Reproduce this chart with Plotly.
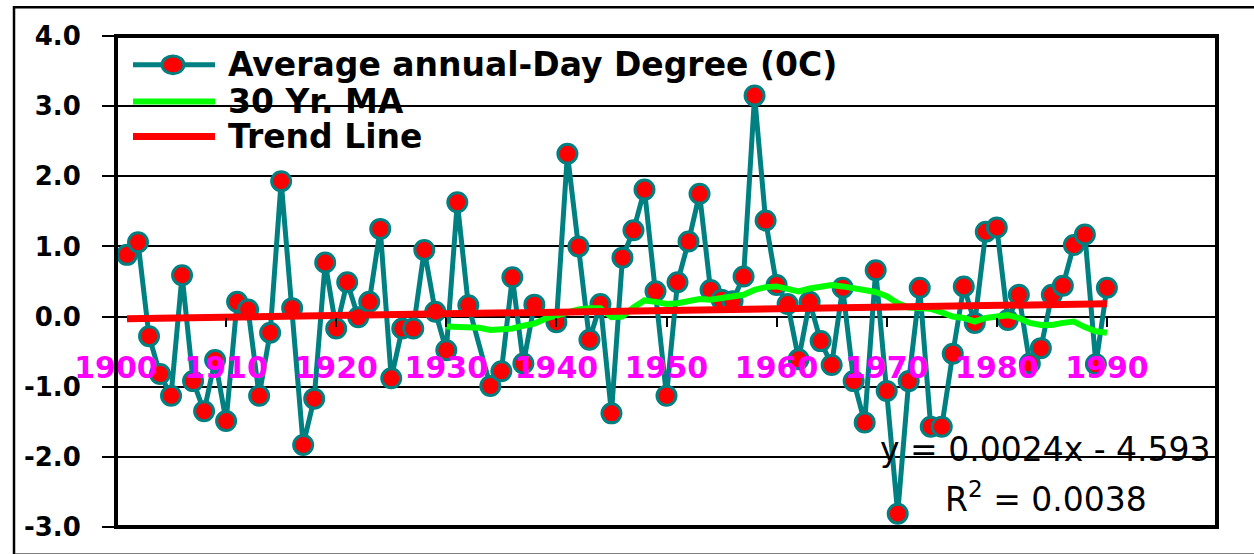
import plotly.graph_objects as go

# ---- data -----------------------------------------------------------------
years = list(range(1901, 1991))
day_degree = [
    0.88, 1.06, -0.28, -0.82, -1.13, 0.59, -0.92, -1.35, -0.62, -1.49,   # 1901-1910
    0.21, 0.10, -1.13, -0.23, 1.93, 0.12, -1.83, -1.17, 0.77, -0.17,     # 1911-1920
    0.49, -0.01, 0.21, 1.25, -0.88, -0.17, -0.17, 0.95, 0.07, -0.48,     # 1921-1930
    1.63, 0.16, None, -0.99, -0.78, 0.56, -0.67, 0.17, None, -0.08,      # 1931-1940
    2.32, 1.00, -0.33, 0.18, -1.38, 0.84, 1.23, 1.81, 0.36, -1.13,       # 1941-1950
    0.49, 1.07, 1.75, 0.38, 0.24, 0.22, 0.57, 3.15, 1.37, 0.45,          # 1951-1960
    0.18, -0.61, 0.21, -0.35, -0.69, 0.41, -0.92, -1.51, 0.66, -1.06,    # 1961-1970
    -2.81, -0.92, 0.41, -1.57, -1.57, -0.53, 0.43, -0.09, 1.21, 1.27,    # 1971-1980
    -0.05, 0.31, -0.67, -0.45, 0.31, 0.44, 1.02, 1.17, -0.68, 0.41,      # 1981-1990
]

ma_years = list(range(1930, 1991))
ma_30 = [
    -0.14, -0.14, -0.15, -0.16, -0.19, -0.19, -0.17, -0.13, -0.10, -0.03,  # 1930-1939
    0.02, 0.06, 0.10, 0.12, 0.12, -0.01, 0.00, 0.13, 0.23, 0.21,           # 1940-1949
    0.18, 0.19, 0.21, 0.25, 0.24, 0.26, 0.28, 0.31, 0.38, 0.42,            # 1950-1959
    0.43, 0.39, 0.36, 0.40, 0.43, 0.45, 0.43, 0.40, 0.37, 0.35,            # 1960-1969
    0.29, 0.19, 0.13, 0.13, 0.11, 0.06, 0.00, -0.02, -0.07, -0.02,         # 1970-1979
    0.01, 0.02, -0.02, -0.09, -0.12, -0.12, -0.09, -0.07, -0.15, -0.21,    # 1980-1989
    -0.23,                                                                 # 1990
]

trend_slope = 0.0024
trend_intercept = -4.593
trend_years = [years[0], years[-1]]
trend_values = [trend_slope * yr + trend_intercept for yr in trend_years]

y_ticks = [-3, -2, -1, 0, 1, 2, 3, 4]
y_tick_text = ["-3.0", "-2.0", "-1.0", "0.0", "1.0", "2.0", "3.0", "4.0"]
x_ticks = list(range(1900, 2001, 10))

legend_labels = ["Average annual-Day Degree (0C)", "30 Yr. MA", "Trend Line"]

# ---- page geometry --------------------------------------------------------
W, H = 1254, 554
ML, MR, MT, MB = 116, 37, 36, 24
PW, PH = W - ML - MR, H - MT - MB


def px(x):
    """horizontal pixel -> paper fraction"""
    return (x - ML) / PW


def py(y):
    """vertical pixel (from top) -> paper fraction"""
    return (H - MB - y) / PH


TEAL = "#008080"
RED = "#FF0000"
GREEN = "#00FF00"
BOLD = "DejaVu Sans"

fig = go.Figure()

fig.add_trace(go.Scatter(
    x=years, y=day_degree, mode="lines+markers", connectgaps=True,
    name=legend_labels[0],
    line=dict(color=TEAL, width=5),
    marker=dict(size=19, color=RED, line=dict(color=TEAL, width=3)),
))
fig.add_trace(go.Scatter(
    x=ma_years, y=ma_30, mode="lines", name=legend_labels[1],
    line=dict(color=GREEN, width=6),
))
fig.add_trace(go.Scatter(
    x=trend_years, y=trend_values, mode="lines", name=legend_labels[2],
    line=dict(color=RED, width=7),
))

shapes = [
    # white backing of the key, hides the grid behind it
    dict(type="rect", xref="paper", yref="paper", layer="between",
         x0=px(116), x1=px(838), y0=py(160), y1=1,
         fillcolor="white", line=dict(width=0)),
    # plot-area frame
    dict(type="rect", xref="paper", yref="paper", layer="above",
         x0=0, x1=1, y0=0, y1=1, line=dict(color="black", width=4)),
    # outer chart frame (runs off the right and bottom of the page)
    dict(type="rect", xref="paper", yref="paper", layer="above",
         x0=px(14), x1=px(1258), y0=py(558), y1=py(7),
         line=dict(color="black", width=2.5)),
    # key samples
    dict(type="line", xref="paper", yref="paper", layer="above",
         x0=px(133), x1=px(215), y0=py(65), y1=py(65),
         line=dict(color=TEAL, width=5)),
    dict(type="circle", xref="paper", yref="paper", layer="above",
         x0=px(162), x1=px(184), y0=py(74), y1=py(56),
         fillcolor=RED, line=dict(color=TEAL, width=3)),
    dict(type="line", xref="paper", yref="paper", layer="above",
         x0=px(133), x1=px(215), y0=py(102), y1=py(102),
         line=dict(color=GREEN, width=6)),
    dict(type="line", xref="paper", yref="paper", layer="above",
         x0=px(133), x1=px(215), y0=py(137), y1=py(137),
         line=dict(color=RED, width=7)),
]

annotations = []
for label, yc in zip(legend_labels, [65, 102, 137]):
    annotations.append(dict(
        xref="paper", yref="paper", x=px(226), y=py(yc),
        xanchor="left", yanchor="middle", showarrow=False,
        text=label, font=dict(family=BOLD, size=33, color="black", weight="bold"),
    ))
annotations.append(dict(
    xref="paper", yref="paper", x=px(1045), y=py(452),
    xanchor="center", yanchor="middle", showarrow=False,
    text=f"y = {trend_slope}x - {abs(trend_intercept)}",
    font=dict(family="DejaVu Sans", size=33, color="black"),
))
annotations.append(dict(
    xref="paper", yref="paper", x=px(1046), y=py(500),
    xanchor="center", yanchor="middle", showarrow=False,
    text="R<sup>2</sup> = 0.0038",
    font=dict(family="DejaVu Sans", size=33, color="black"),
))

fig.update_layout(
    width=W, height=H,
    margin=dict(l=ML, r=MR, t=MT, b=MB, pad=0),
    paper_bgcolor="white", plot_bgcolor="white",
    showlegend=False,
    shapes=shapes, annotations=annotations,
    xaxis=dict(
        range=[1900, 2000], tickvals=x_ticks,
        anchor="free", position=3 / 7,
        showgrid=False, zeroline=False, showline=False,
        ticks="outside", ticklen=9, tickwidth=2, tickcolor="black",
        ticklabelstandoff=15,
        tickfont=dict(family=BOLD, size=30, color="#FF00FF", weight="bold"),
    ),
    yaxis=dict(
        range=[-3, 4], tickvals=y_ticks, ticktext=y_tick_text,
        showgrid=True, gridcolor="black", gridwidth=2,
        zeroline=False, showline=False,
        ticks="outside", ticklen=13, tickwidth=2, tickcolor="black",
        ticklabelstandoff=16,
        tickfont=dict(family=BOLD, size=26, color="black", weight="bold"),
    ),
)

fig.write_html("out.html")
